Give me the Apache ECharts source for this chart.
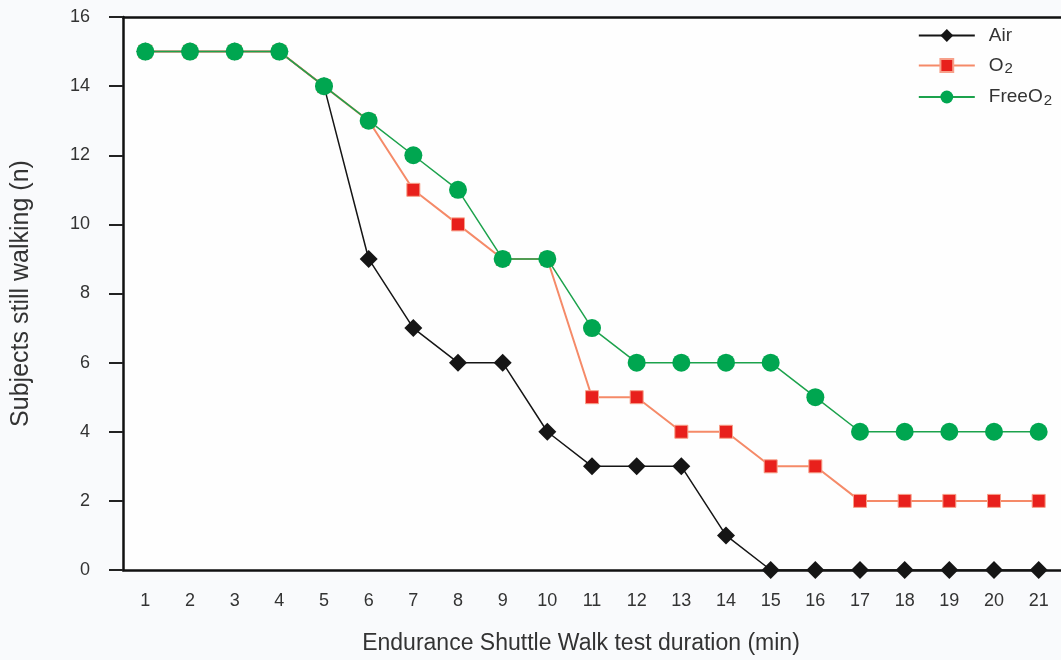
<!DOCTYPE html>
<html><head><meta charset="utf-8">
<script src="https://cdn.jsdelivr.net/npm/echarts@6/dist/echarts.min.js"></script>
<style>html,body{margin:0;padding:0;background:#f9fafc}#c{width:1061px;height:660px}</style>
</head><body><div id="c"></div>
<script>
const categories = ['1','2','3','4','5','6','7','8','9','10','11','12','13','14','15','16','17','18','19','20','21'];
const airValues   = [15,15,15,15,14,9,7,6,6,4,3,3,3,1,0,0,0,0,0,0,0];
const o2Values    = [15,15,15,15,14,13,11,10,9,9,5,5,4,4,3,3,2,2,2,2,2];
const freeO2Values= [15,15,15,15,14,13,12,11,9,9,7,6,6,6,6,5,4,4,4,4,4];
const seriesNames = ['Air','O2','FreeO2'];
const legendLabels = {'Air': 'Air', 'O2': 'O{sub|2}', 'FreeO2': 'FreeO{sub|2}'};

const font = 'Liberation Sans, Arial, sans-serif';
const chart = echarts.init(document.getElementById('c'));
chart.setOption({
  backgroundColor: '#f9fafc',
  animation: false,
  textStyle: {fontFamily: font},
  grid: {left: 123, right: -5, top: 17, bottom: 88, show: true, backgroundColor: '#fefefe', borderWidth: 0},
  legend: {
    orient: 'vertical', right: 4, top: 21, itemGap: 11, itemWidth: 56, itemHeight: 16,
    data: seriesNames,
    formatter: n => legendLabels[n],
    textStyle: {fontSize: 19, color: '#333', fontFamily: font, lineHeight: 18, padding: [0,0,0,9],
      rich: {sub: {fontSize: 15, color: '#333', fontFamily: font, padding: [7,0,0,1]}}}
  },
  xAxis: [{
    type: 'category', data: categories, boundaryGap: true, position: 'bottom',
    axisLine: {lineStyle: {color: '#111', width: 2.5}},
    axisTick: {alignWithLabel: true, length: 10, lineStyle: {color: '#222', width: 2}},
    axisLabel: {fontSize: 18, color: '#333', margin: 22, fontFamily: font},
    name: 'Endurance Shuttle Walk test duration (min)', nameLocation: 'middle', nameGap: 62,
    nameTextStyle: {fontSize: 23, color: '#333', fontFamily: font, padding: [0, 22, 0, 0]}
  },{
    type: 'category', data: categories, position: 'top',
    axisLine: {show: true, lineStyle: {color: '#111', width: 2.5}},
    axisTick: {show: false}, axisLabel: {show: false}
  }],
  yAxis: {
    type: 'value', min: 0, max: 16, interval: 2,
    axisLine: {show: true, lineStyle: {color: '#111', width: 2.5}},
    axisTick: {show: true, length: 14, lineStyle: {color: '#222', width: 2}},
    splitLine: {show: false},
    axisLabel: {fontSize: 18, color: '#333', margin: 33, fontFamily: font},
    name: 'Subjects still walking (n)', nameLocation: 'middle', nameGap: 89,
    nameTextStyle: {fontSize: 25, color: '#333', fontFamily: font}
  },
  series: [
    {name: seriesNames[0], type: 'line', data: airValues, clip: false,
     symbol: 'diamond', symbolSize: 18,
     lineStyle: {color: '#151515', width: 1.5}, itemStyle: {color: '#151515'}},
    {name: seriesNames[1], type: 'line', data: o2Values, clip: false,
     symbol: 'rect', symbolSize: 13,
     lineStyle: {color: '#f58a68', width: 2}, itemStyle: {color: '#e8201c', borderColor: '#f7a08a', borderWidth: 1}},
    {name: seriesNames[2], type: 'line', data: freeO2Values, clip: false,
     symbol: 'circle', symbolSize: 18,
     lineStyle: {color: '#1ca24c', width: 1.5}, itemStyle: {color: '#00a650'}}
  ]
});
</script></body></html>
